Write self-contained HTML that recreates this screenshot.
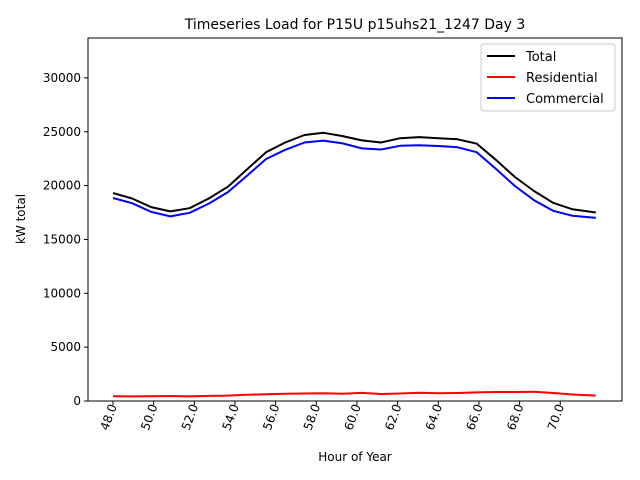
<!DOCTYPE html>
<html><head><meta charset="utf-8"><style>
body{margin:0;background:#fff;}
svg{display:block;font-family:"DejaVu Sans","Liberation Sans",sans-serif;}
</style></head><body>
<svg id="chart" width="640" height="480">
<rect width="640" height="480" fill="#fff"/>
<text x="355" y="29" font-size="14" text-anchor="middle">Timeseries Load for P15U p15uhs21_1247  Day 3</text>
<g id="grid"></g>
<g id="series"></g>
<rect x="88" y="38" width="534" height="363" fill="none" stroke="#000" stroke-width="1"/>
<text x="355" y="461" font-size="12" text-anchor="middle">Hour of Year</text>
<text transform="translate(25,219) rotate(-90)" font-size="12" text-anchor="middle">kW total</text>
<g>
<rect x="481" y="44" width="134" height="67" rx="3" fill="#fff" stroke="#ccc"/>
<line x1="487" y1="56" x2="515" y2="56" stroke="#000" stroke-width="2"/>
<text x="526" y="61" font-size="13">Total</text>
<line x1="487" y1="77" x2="515" y2="77" stroke="#f00" stroke-width="2"/>
<text x="526" y="82" font-size="13">Residential</text>
<line x1="487" y1="98" x2="515" y2="98" stroke="#00f" stroke-width="2"/>
<text x="526" y="103" font-size="13">Commercial</text>
</g>
</svg>
<script>
const hours=[48,48.94,49.88,50.82,51.77,52.71,53.65,54.59,55.53,56.47,57.42,58.36,59.30,60.24,61.18,62.12,63.06,64.01,64.95,65.89,66.83,67.77,68.71,69.65,70.60,71.75];
const total=[19300,18800,18000,17600,17900,18800,19900,21500,23100,24000,24700,24900,24600,24200,24000,24400,24500,24400,24300,23900,22400,20800,19500,18400,17800,17500];
const residential=[450,430,440,460,430,470,500,580,630,680,700,720,680,750,650,700,760,720,740,800,840,840,860,740,600,500];
const commercial=[18850,18370,17560,17140,17470,18330,19400,20920,22470,23320,24000,24180,23920,23450,23350,23700,23740,23680,23560,23100,21560,19960,18640,17660,17200,17000];
const xTicks=[48,50,52,54,56,58,60,62,64,66,68,70];
const yTicks=[0,5000,10000,15000,20000,25000,30000];
const NS="http://www.w3.org/2000/svg";
function xs(h){return 113+(h-48)*20.33;}
function ys(v){return 401-v*0.01077;}
const g=document.getElementById('grid');
xTicks.forEach(t=>{
  const l=document.createElementNS(NS,'line');
  l.setAttribute('x1',xs(t));l.setAttribute('x2',xs(t));l.setAttribute('y1',401);l.setAttribute('y2',405);l.setAttribute('stroke','#000');
  
  
  g.appendChild(l);
  const tx=document.createElementNS(NS,'text');
  const x=xs(t)+4,y=406;
  tx.setAttribute('transform','translate('+x+','+y+') rotate(-70)');
  tx.setAttribute('font-size','12');tx.setAttribute('text-anchor','end');
  tx.textContent=t.toFixed(1);
  
  
  g.appendChild(tx);
});
yTicks.forEach(t=>{
  const l=document.createElementNS(NS,'line');
  l.setAttribute('x1',84);l.setAttribute('x2',88);l.setAttribute('y1',ys(t));l.setAttribute('y2',ys(t));l.setAttribute('stroke','#000');
  
  
  g.appendChild(l);
  const tx=document.createElementNS(NS,'text');
  tx.setAttribute('x',81);tx.setAttribute('y',ys(t)+4);
  tx.setAttribute('font-size','12');tx.setAttribute('text-anchor','end');
  tx.textContent=t;
  
  
  g.appendChild(tx);
});
const s=document.getElementById('series');
function line(vals,color,name){
  const p=document.createElementNS(NS,'polyline');
  p.setAttribute('points',vals.map((v,i)=>xs(hours[i]).toFixed(1)+','+ys(v).toFixed(1)).join(' '));
  p.setAttribute('fill','none');p.setAttribute('stroke',color);p.setAttribute('stroke-width','2');
  p.setAttribute('stroke-linejoin','round');
  
  
  s.appendChild(p);
}
line(total,'#000','total-line');
line(residential,'#f00','residential-line');
line(commercial,'#00f','commercial-line');
</script>
</body></html>
